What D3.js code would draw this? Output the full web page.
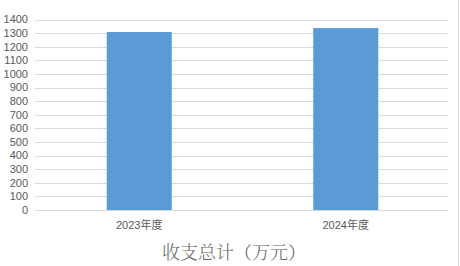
<!DOCTYPE html>
<html>
<head>
<meta charset="utf-8">
<script src="https://cdn.jsdelivr.net/npm/d3@7"></script>
<style>
  body { margin: 0; background: #fff; }
  svg { display: block; font-family: "Liberation Sans", Arial, "Noto Sans CJK SC", sans-serif; }
</style>
</head>
<body>
<div id="chart"></div>
<script>
var categories = ["2023年度", "2024年度"];
var values     = [1308, 1337];
var yTicks     = [0, 100, 200, 300, 400, 500, 600, 700, 800, 900, 1000, 1100, 1200, 1300, 1400];
var title      = "收支总计（万元）";

var width = 460, height = 266;
var margin = {top: 19.5, right: 12, bottom: 56, left: 35};

var svg = d3.select("#chart").append("svg")
	.attr("width", width)
	.attr("height", height);

// right border of the chart frame
svg.append("line")
	.attr("x1", width - 1.5).attr("x2", width - 1.5)
	.attr("y1", 0).attr("y2", height)
	.attr("stroke", "#d9d9d9");

var x = d3.scaleBand()
	.domain(categories)
	.range([margin.left, width - margin.right])
	.padding(0);

var y = d3.scaleLinear()
	.domain([0, 1400])
	.range([height - margin.bottom, margin.top]);

// gridlines
svg.append("g")
	.selectAll("line")
	.data(yTicks)
	.enter().append("line")
		.attr("x1", margin.left)
		.attr("x2", width - margin.right)
		.attr("y1", function(d){ return Math.round(y(d)) + 0.5; })
		.attr("y2", function(d){ return Math.round(y(d)) + 0.5; })
		.attr("stroke", "#d9d9d9")
		.attr("stroke-width", 1);

// y tick labels
svg.append("g")
	.selectAll("text")
	.data(yTicks)
	.enter().append("text")
		.attr("x", 28)
		.attr("y", function(d){ return y(d); })
		.attr("dy", "0.35em")
		.attr("text-anchor", "end")
		.attr("font-size", "11px")
		.attr("fill", "#595959")
		.text(function(d){ return d; });

// bars
var barW = x.bandwidth() * 0.315;
svg.append("g")
	.selectAll("rect")
	.data(values)
	.enter().append("rect")
		.attr("x", function(d, i){ return x(categories[i]) + x.bandwidth() / 2 - barW / 2 + 1; })
		.attr("y", function(d){ return y(d); })
		.attr("width", barW)
		.attr("height", function(d){ return y(0) - y(d); })
		.attr("fill", "#5b9bd5");

// baseline over bars
svg.append("line")
	.attr("x1", margin.left).attr("x2", width - margin.right)
	.attr("y1", Math.round(y(0)) + 0.5).attr("y2", Math.round(y(0)) + 0.5)
	.attr("stroke", "#d9d9d9");

// category labels
svg.append("g")
	.selectAll("text")
	.data(categories)
	.enter().append("text")
		.attr("x", function(d){ return x(d) + x.bandwidth() / 2 + 1; })
		.attr("y", y(0) + 19)
		.attr("text-anchor", "middle")
		.attr("font-size", "11px")
		.attr("fill", "#595959")
		.text(function(d){ return d; });

// title below
svg.append("text")
	.attr("x", 234)
	.attr("y", 259)
	.attr("text-anchor", "middle")
	.attr("font-size", "18px")
	.attr("font-family", "'Noto Serif CJK SC', 'Noto Sans CJK SC', serif")
	.attr("font-weight", 300)
	.attr("fill", "#666666")
	.text(title);
</script>
</body>
</html>
